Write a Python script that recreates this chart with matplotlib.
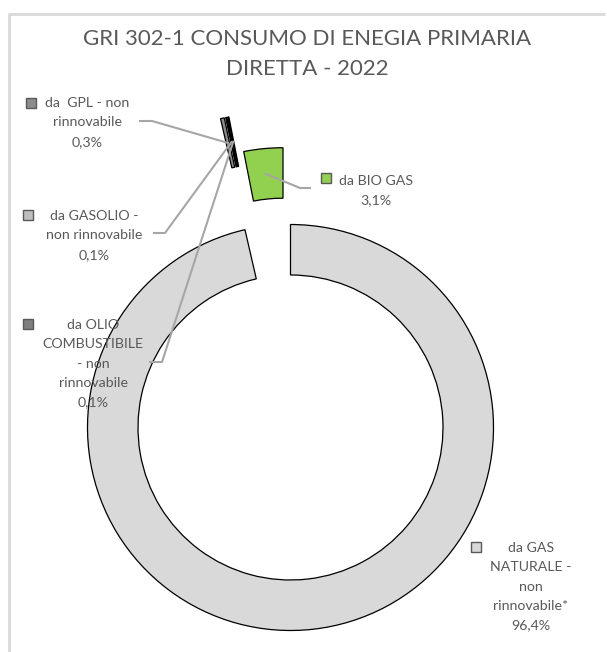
import numpy as np
import matplotlib.pyplot as plt

W, H = 607, 652

title = "GRI 302-1 CONSUMO DI ENEGIA PRIMARIA\nDIRETTA - 2022"

# data (Excel order: clockwise from 12 o'clock)
sources = ["da GAS\nNATURALE -\nnon\nrinnovabile*",
           "da  GPL - non\nrinnovabile",
           "da GASOLIO -\nnon rinnovabile",
           "da OLIO\nCOMBUSTIBILE\n- non\nrinnovabile",
           "da BIO GAS"]
shares = [96.4, 0.3, 0.1, 0.1, 3.1]

# styling
colors = ["#d9d9d9", "#8c8c8c", "#bfbfbf", "#7f7f7f", "#92d050"]
explode_frac = [0.0, 0.56, 0.56, 0.56, 0.38]
txt_col = "#595959"
line_col = "#a6a6a6"
font = "Lato"

# label layout in pixel coords (text centre x, first line y, marker x, elbow pts)
lab_x = [531, 87, 94, 93, 376]
lab_y = [548, 103, 216, 325, 181]
mark_xy = [(476, 547), (31, 103), (28, 215), (28, 324), (326, 178)]
elbows = [None,
          [(140, 121), (152, 121)],
          [(154, 233), (165, 233)],
          [(150, 362), (162, 362)],
          [(310, 188), (300, 188)]]

cx, cy, R = 290.5, 427.5, 203.0
hole_w = 50.5


def py(y):
    return H - y


fig = plt.figure(figsize=(W / 100, H / 100), dpi=100)
ax = fig.add_axes([0, 0, 1, 1])

wedges, _ = ax.pie(shares, colors=colors, radius=R, center=(cx, py(cy)),
                   startangle=90, counterclock=False,
                   explode=[e * R for e in explode_frac],
                   wedgeprops=dict(width=hole_w, edgecolor="black", linewidth=0.9))

ax.set_xlim(0, W)
ax.set_ylim(0, H)
ax.set_aspect("equal")
ax.axis("off")

# chart border (cropped)
ax.plot([8, 605], [py(14), py(14)], color="#d9d9d9", lw=2, solid_capstyle="butt")
ax.plot([9, 9], [py(14), 0], color="#d9d9d9", lw=2, solid_capstyle="butt")

ax.text(307, py(54), title, ha="center", va="center", fontsize=16,
        color=txt_col, family=font, linespacing=1.6)

for i, w in enumerate(wedges):
    pct = f"{shares[i]:.1f}%".replace(".", ",")
    txt = sources[i] + "\n" + pct
    ax.text(lab_x[i], py(lab_y[i] - 6), txt, ha="center", va="top",
            fontsize=10.2, color=txt_col, family=font, linespacing=1.74)
    mx, my = mark_xy[i]
    ax.plot(mx, py(my), marker="s", ms=6.5, mfc=colors[i], mec="#595959", mew=1)
    if elbows[i] is not None:
        mid = np.radians(0.5 * (w.theta1 + w.theta2))
        rr = w.r - w.width / 2
        ax_ = w.center[0] + rr * np.cos(mid)
        ay_ = w.center[1] + rr * np.sin(mid)
        (x0, y0), (x1, y1) = elbows[i]
        ax.plot([x0, x1, ax_], [py(y0), py(y1), ay_], color=line_col, lw=1.5, zorder=3)

fig.savefig("out.png", dpi=100)
